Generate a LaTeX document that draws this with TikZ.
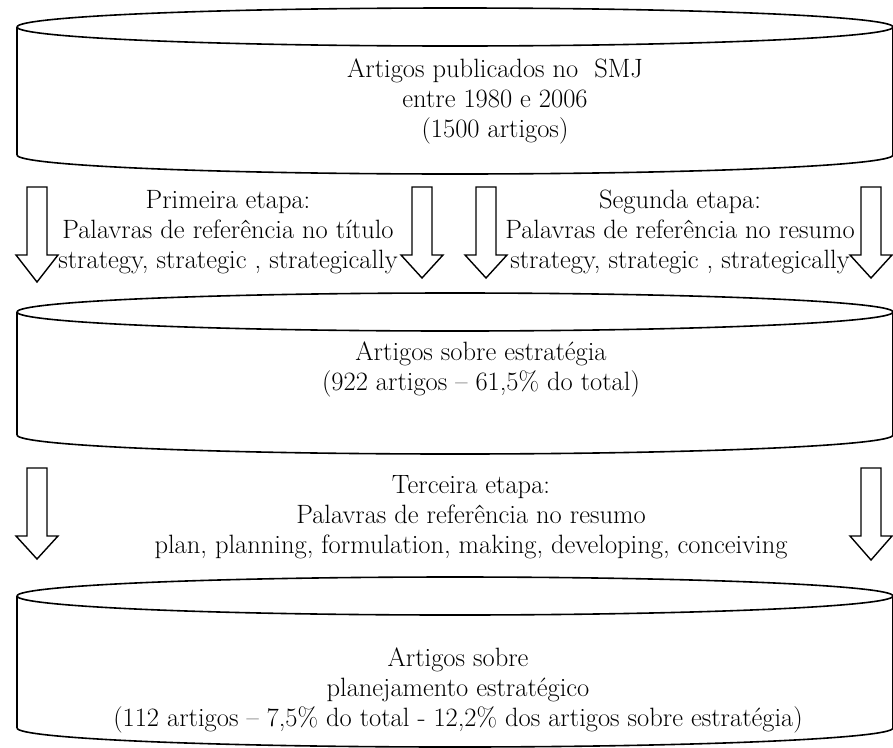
\documentclass[tikz,border=0pt]{standalone}
\begin{document}
\begin{tikzpicture}[x=1pt,y=-1pt,
  outline/.style={line width=1.6pt, line join=round},
  arrowshape/.style={line width=1.4pt, line join=miter, fill=white},
  txt/.style={align=center, inner sep=0pt, font=\fontsize{26.5}{30}\selectfont}]
\useasboundingbox (0,0) rectangle (893,747);
% cylinders: centre x 455, rx 438
\foreach \t/\b in {27/155, 312/435, 596/728}{
  \draw[outline] (17,\b) -- (17,\t) ;
  \draw[outline] (893,\t) -- (893,\b);
  \draw[outline] (455,\t) ellipse [x radius=438, y radius=19];
  \draw[outline] (17,\b) arc [start angle=180, end angle=360, x radius=438, y radius=-19];
}
% hollow block arrows
\foreach \cx/\top/\hs/\tip in {37/187/255/282, 422/187/255/278, 486/187/255/278, 871/187/255/278, 37/468/536/559, 871/468/536/560}{
  \draw[arrowshape] (\cx-10,\top) -- (\cx-10,\hs) -- (\cx-21,\hs) -- (\cx,\tip) -- (\cx+21,\hs) -- (\cx+10,\hs) -- (\cx+10,\top) -- cycle;
}
\node[txt] (c1) at (495,101) {Artigos publicados no\ \ SMJ\\entre 1980 e 2006\\(1500 artigos)};
\node[txt] (s1) at (228,232) {Primeira etapa:\\Palavras de referência no título\\strategy, strategic , strategically};
\node[txt] (s2) at (680,232) {Segunda etapa:\\Palavras de referência no resumo\\strategy, strategic , strategically};
\node[txt] (c2) at (481,369) {Artigos sobre estratégia\\(922 artigos -- 61,5\% do total)};
\node[txt] (s3) at (471,517) {Terceira etapa:\\Palavras de referência no resumo\\plan, planning, formulation, making, developing, conceiving};
\node[txt] (c3) at (458,690) {Artigos sobre\\planejamento estratégico\\(112 artigos -- 7,5\% do total - 12,2\% dos artigos sobre estratégia)};
\end{tikzpicture}
\end{document}
